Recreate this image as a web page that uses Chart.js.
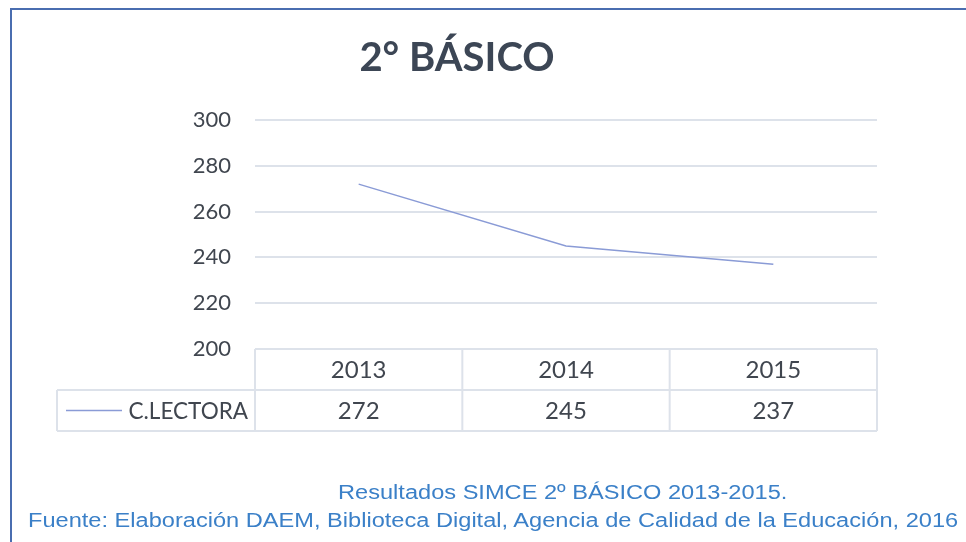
<!DOCTYPE html>
<html>
<head>
<meta charset="utf-8">
<script src="https://cdn.jsdelivr.net/npm/chart.js@4.4.0/dist/chart.umd.min.js"></script>
<style>
  html, body { margin: 0; padding: 0; background: #fff; }
  body { width: 966px; height: 542px; position: relative; overflow: hidden; }
  #frame { position: absolute; left: 10px; top: 8px; width: 980px; height: 560px;
           border: 2px solid #4a6db0; box-sizing: border-box; }
  #chart { position: absolute; left: 0; top: 0; }
  .cap { position: absolute; font-family: "Liberation Sans", Arial, sans-serif; font-size: 20px;
         color: #3b80c8; white-space: nowrap; transform: scaleX(1.18); }
</style>
</head>
<body>
<div id="frame"></div>
<canvas id="chart" width="966" height="542"></canvas>
<div class="cap" id="cap1" style="left:338px;top:481px;transform-origin:0 0;">Resultados SIMCE 2º BÁSICO 2013-2015.</div>
<div class="cap" id="cap2" style="left:28px;top:509px;transform-origin:0 0;">Fuente: Elaboración DAEM, Biblioteca Digital, Agencia de Calidad de la Educación, 2016</div>
<script>
const years = ['2013', '2014', '2015'];
const lectura = [272, 245, 237];
const seriesName = 'C.LECTORA';
const yTicks = [200, 220, 240, 260, 280, 300];

const lineColor = '#8a9bd6';
const tableColor = '#dde2ea';
const textColor = '#40464f';

// draws the data table below the plot, aligned with the x scale
const dataTable = {
  id: 'dataTable',
  afterDraw(chart) {
    const ctx = chart.ctx;
    const area = chart.chartArea;
    const x = chart.scales.x;
    const rowH = 41;
    const top = area.bottom;
    const left = 57;
    const edges = [area.left];
    for (let i = 0; i < years.length - 1; i++) {
      edges.push((x.getPixelForValue(i) + x.getPixelForValue(i + 1)) / 2);
    }
    edges.push(area.right);

    ctx.save();
    ctx.strokeStyle = tableColor;
    ctx.lineWidth = 2;
    ctx.beginPath();
    edges.forEach(e => { ctx.moveTo(e, top); ctx.lineTo(e, top + rowH * 2); });
    ctx.moveTo(left, top + rowH); ctx.lineTo(left, top + rowH * 2);
    ctx.moveTo(left, top + rowH); ctx.lineTo(area.right, top + rowH);
    ctx.moveTo(left, top + rowH * 2); ctx.lineTo(area.right, top + rowH * 2);
    ctx.stroke();

    ctx.fillStyle = textColor;
    ctx.font = '24px Lato';
    ctx.textAlign = 'center';
    ctx.textBaseline = 'middle';
    years.forEach((y, i) => {
      const cx = x.getPixelForValue(i);
      ctx.fillText(y, cx, top + rowH / 2 + 1);
      ctx.fillText(String(lectura[i]), cx, top + rowH * 1.5 + 1);
    });
    ctx.font = '22.5px Lato';
    ctx.textAlign = 'right';
    ctx.fillText(seriesName, area.left - 7, top + rowH * 1.5 + 1);

    ctx.strokeStyle = lineColor;
    ctx.lineWidth = 1.5;
    ctx.beginPath();
    ctx.moveTo(66, top + rowH * 1.5);
    ctx.lineTo(122, top + rowH * 1.5);
    ctx.stroke();
    ctx.restore();
  }
};

new Chart(document.getElementById('chart'), {
  type: 'line',
  data: {
    labels: years,
    datasets: [{
      label: seriesName,
      data: lectura,
      borderColor: lineColor,
      borderWidth: 1.5,
      pointRadius: 0,
      tension: 0
    }]
  },
  options: {
    responsive: false,
    animation: false,
    devicePixelRatio: 1,
    layout: { padding: { left: 37, right: 89, top: 0, bottom: 193 } },
    plugins: {
      legend: { display: false },
      tooltip: { enabled: false },
      title: {
        display: true,
        text: '2° BÁSICO',
        color: '#3c4655',
        font: { family: 'Lato', size: 40, weight: 'bold' },
        padding: { top: 34, bottom: 38 }
      }
    },
    scales: {
      x: { display: false, offset: true },
      y: {
        min: 200,
        max: 300,
        afterBuildTicks(scale) { scale.ticks = yTicks.map(v => ({ value: v })); },
        afterFit(scale) { scale.width = 218; },
        border: { display: false },
        grid: { color: tableColor, lineWidth: 2, drawTicks: false },
        ticks: { color: textColor, padding: 24, font: { family: 'Lato', size: 22 } }
      }
    }
  },
  plugins: [dataTable]
});
</script>
</body>
</html>
